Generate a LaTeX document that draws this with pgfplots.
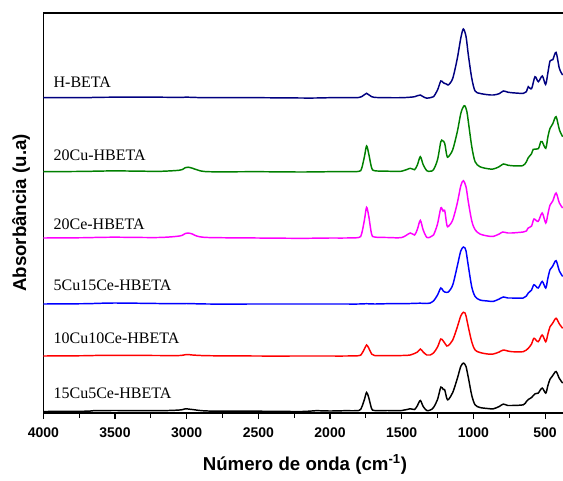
\documentclass[border=0pt]{standalone}
\usepackage{fontspec}
\setmainfont{Liberation Serif}
\setsansfont{Liberation Sans}
\usepackage{pgfplots}
\usepackage{pgfplotstable}
\pgfplotsset{compat=1.18}
\definecolor{cNavy}{RGB}{0,0,128}
\definecolor{cGreen}{RGB}{0,128,0}
\definecolor{cMag}{RGB}{255,0,255}
\definecolor{cBlue}{RGB}{0,0,255}
\definecolor{cRed}{RGB}{255,0,0}

\pgfplotstableread{
wn a
4000 0
3700 0
3650 0.3
3500 0.5
3200 0.5
3050 0.3
3010 0.5
2990 0.5
2950 0.3
2850 0
2500 0
2200 -0.3
2100 -0.3
2000 0
1900 0
1800 0.2
1780 1
1760 3
1745 4.4
1730 3
1710 1
1690 0.3
1600 0
1500 0
1440 0.5
1410 1
1390 2
1370 2.7
1350 1
1325 -0.5
1300 0
1278 1
1250 7.7
1227 16.7
1210 15
1200 14.3
1185 13.5
1174 12.7
1144 19.3
1112 39.3
1088 59.3
1070 68.7
1051 61
1035 42.7
1011 19.3
988 6.7
954 4.3
900 3
861 2.7
820 4
791 6.7
760 5.5
733 5
652 4.3
630 6
617 11
594 9
570 21
547 16
519 21.7
496 13.3
480 25
465 36.7
446 38
423 45.3
400 29.3
377 22.7
}\tHBETA

\pgfplotstableread{
wn a
4000 0
3700 0.3
3650 0.5
3500 0.8
3300 0.5
3200 0.3
3050 1.5
3010 4
2990 4.5
2960 3.5
2930 2
2850 0
2500 0
2200 -0.3
2000 0
1900 0
1800 0.3
1780 3
1760 15
1745 25.7
1730 18
1710 4
1690 1
1600 0.5
1500 0.5
1440 3.4
1410 2
1390 7
1370 15
1350 7
1325 1
1300 0.5
1278 2
1250 12
1227 30
1215 31
1200 28.4
1185 16
1174 15
1144 22
1112 40
1088 58
1070 65
1058 65.7
1045 60
1035 50
1011 25
988 10
954 5
900 3
861 2.7
820 5
791 7.7
760 6.5
733 6
656 6
630 10
617 14
594 18
582 22.4
547 23
530 30
520 30
495 23.4
480 35
465 43.4
446 48
423 55
400 42
377 35
}\tCu

\pgfplotstableread{
wn a
4000 0
3700 0.3
3650 0.5
3500 0.8
3200 0.5
3050 2
3010 4.5
2990 5
2960 4
2930 2
2850 0.5
2500 0
2200 -0.3
2000 0
1900 0
1800 0.5
1780 4
1760 18
1745 30.6
1730 22
1710 4
1690 1
1600 0.5
1500 0.5
1440 5
1410 3
1390 9
1370 17.6
1350 8
1325 0.6
1300 1
1278 3
1250 14
1227 30
1212 27
1200 27.6
1185 13
1174 11.6
1144 18
1112 35
1088 52
1070 57.3
1051 51
1035 36
1011 17
988 8.3
954 4
900 2
861 1.6
820 4
795 6
760 5
733 5
652 6
630 7
618 10
594 12
577 19
548 16.6
520 25
495 15
480 24
465 33
446 37
423 45
400 35
377 30
}\tCe

\pgfplotstableread{
wn a
4000 0
3700 0.3
3650 0.5
3500 1
3200 0.5
3050 0.3
3000 0.5
2850 0
2500 0
2200 0
2000 0
1900 0
1800 0
1745 0.3
1690 0
1600 0.3
1500 0.3
1440 0.5
1370 0.8
1325 0.5
1300 1
1278 3
1250 9
1227 16
1210 13
1200 12
1185 11.6
1174 12
1144 19
1112 38
1088 53
1070 57
1058 56
1051 53
1035 38
1011 17
988 7.6
954 4
900 3
861 2.6
820 5
791 7
760 6
733 6
652 6
630 8
617 11
594 14
577 19.3
548 16
520 22.6
495 16
480 26
465 34.3
446 38
423 43.3
400 33
377 27.6
}\tCuCeA

\pgfplotstableread{
wn a
4000 0
3700 0.3
3650 0.5
3500 0.7
3200 0.5
3050 0.5
3000 1.5
2960 1
2850 0.3
2500 0
2200 0
2000 0
1900 0
1800 0.3
1780 2
1760 7
1745 11
1730 8
1710 2
1690 0.5
1600 0.3
1500 0.5
1440 1
1390 4
1370 7
1350 4
1325 1
1300 1
1278 3
1250 9
1227 17
1210 15
1200 13
1185 10
1174 10.5
1144 16
1112 29
1088 40
1070 43.7
1058 43
1051 40
1035 29
1011 14
988 6
954 3.5
900 2
861 2
820 4
791 6
760 5
733 4.3
652 4.3
630 6
617 7.7
594 12
577 17.7
548 14.3
520 21
495 14.3
480 22
465 29.3
446 33
423 37.7
400 32
377 27.7
}\tCuCeB

\pgfplotstableread{
wn a
4000 0
3700 0.3
3650 0.8
3500 1
3200 0.8
3050 1.5
3010 2.7
2990 2.5
2960 2
2850 0.5
2500 0.3
2200 0
2100 0.8
2000 0.5
1900 0.8
1800 1
1780 4
1760 12
1745 19
1730 14
1710 3
1690 1
1600 1
1500 1
1440 2.7
1410 2
1390 6
1370 11
1350 5
1325 1
1300 1.5
1278 4
1250 12
1227 24.4
1210 22
1200 21.7
1185 13
1174 12
1144 19
1112 33
1088 45
1070 48.4
1058 47
1051 45
1035 34
1011 16
988 6.7
954 4
900 3
861 2.7
820 5
791 7.4
760 6
733 6
652 6.7
630 10
617 12
594 14
570 17.7
548 18.4
520 23.4
495 18.4
480 26
465 32.4
446 36
423 40
400 33
377 28.4
}\tCuCeC

\begin{document}
\begin{tikzpicture}
\begin{axis}[
  at={(0,0)}, anchor=south west,
  scale only axis,
  width=392.4pt, height=300pt,
  x dir=reverse,
  xmin=350, xmax=4000,
  ymin=0, ymax=400,
  xtick={500,1000,1500,2000,2500,3000,3500,4000},
  minor x tick num=1,
  xtick pos=left,
  tick align=outside,
  major tick length=4.5pt,
  minor tick length=3.5pt,
  ytick=\empty,
  axis line style={line width=1pt},
  every tick/.style={line width=0.8pt, black},
  /pgf/number format/1000 sep={},
  /pgf/number format/assume math mode=true,
  xticklabel style={font=\sffamily\bfseries\fontsize{10.5}{12}\selectfont, yshift=-3pt},
  xlabel={Número de onda (cm\textsuperscript{-1})},
  ylabel={Absorbância (u.a)},
  xlabel style={font=\sffamily\bfseries\fontsize{14}{16}\selectfont, yshift=-6pt},
  ylabel style={font=\sffamily\bfseries\fontsize{14}{16}\selectfont, yshift=2pt},
  every axis plot/.append style={line width=1.1pt, smooth, tension=0.5},
  clip=true,
]
\addplot[cNavy] table[x=wn, y expr=\thisrow{a}+315.3] {\tHBETA};
\addplot[cGreen] table[x=wn, y expr=\thisrow{a}+241.3] {\tCu};
\addplot[cMag] table[x=wn, y expr=\thisrow{a}+175] {\tCe};
\addplot[cBlue] table[x=wn, y expr=\thisrow{a}+109] {\tCuCeA};
\addplot[cRed] table[x=wn, y expr=\thisrow{a}+57] {\tCuCeB};
\addplot[black] table[x=wn, y expr=\thisrow{a}+1.5] {\tCuCeC};
\node[anchor=base west, inner sep=0pt, font=\fontsize{12}{14}\selectfont] at (axis cs:3930,325.2) {H-BETA};
\node[anchor=base west, inner sep=0pt, font=\fontsize{12}{14}\selectfont] at (axis cs:3930,253) {20Cu-HBETA};
\node[anchor=base west, inner sep=0pt, font=\fontsize{12}{14}\selectfont] at (axis cs:3930,183.7) {20Ce-HBETA};
\node[anchor=base west, inner sep=0pt, font=\fontsize{12}{14}\selectfont] at (axis cs:3930,123) {5Cu15Ce-HBETA};
\node[anchor=base west, inner sep=0pt, font=\fontsize{12}{14}\selectfont] at (axis cs:3930,69.7) {10Cu10Ce-HBETA};
\node[anchor=base west, inner sep=0pt, font=\fontsize{12}{14}\selectfont] at (axis cs:3930,14.7) {15Cu5Ce-HBETA};
\end{axis}
\pgfresetboundingbox
\useasboundingbox (-32.5pt,-50.25pt) rectangle (389.75pt,309.75pt);
\end{tikzpicture}
\end{document}
